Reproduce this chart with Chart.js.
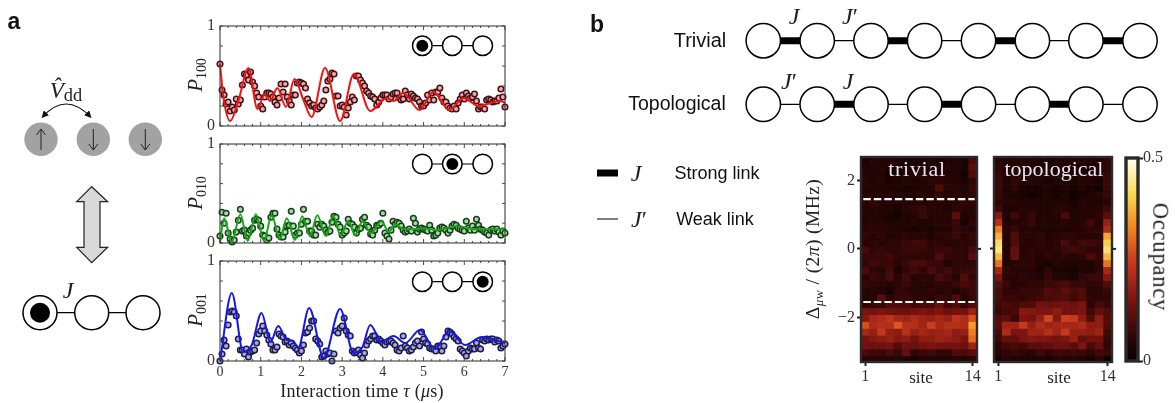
<!DOCTYPE html>
<html><head><meta charset="utf-8">
<style>
html,body{margin:0;padding:0;background:#fff;width:1175px;height:403px;overflow:hidden}
#root{position:relative;width:1175px;height:403px;filter:blur(.35px)}
canvas{position:absolute}
svg{position:absolute;left:0;top:0}
.t{position:absolute;white-space:nowrap;transform:translate(-50%,-50%);line-height:1;color:#222}
.s{font-family:"Liberation Serif",serif}
.a{font-family:"Liberation Sans",Arial,sans-serif;color:#111}
i{font-style:italic}
sub{font-size:.66em;line-height:0;vertical-align:-.3em}
</style>
<script src="https://cdn.jsdelivr.net/npm/chart.js@4"></script>
</head><body><div id="root"><svg id="dg" width="1175" height="403"></svg></div>
<script>
// ---------- data ----------
const timeUs=[
0,.05,.1,.15,.2,.25,.3,.35,.4,.45,.5,.55,.6,.65,.7,.75,.8,.85,.9,.95,
1,1.05,1.1,1.15,1.2,1.25,1.3,1.35,1.4,1.45,1.5,1.55,1.6,1.65,1.7,1.75,1.8,1.85,1.9,1.95,
2,2.05,2.1,2.15,2.2,2.25,2.3,2.35,2.4,2.45,2.5,2.55,2.6,2.65,2.7,2.75,2.8,2.85,2.9,2.95,
3,3.05,3.1,3.15,3.2,3.25,3.3,3.35,3.4,3.45,3.5,3.55,3.6,3.65,3.7,3.75,3.8,3.85,3.9,3.95,
4,4.05,4.1,4.15,4.2,4.25,4.3,4.35,4.4,4.45,4.5,4.55,4.6,4.65,4.7,4.75,4.8,4.85,4.9,4.95,
5,5.05,5.1,5.15,5.2,5.25,5.3,5.35,5.4,5.45,5.5,5.55,5.6,5.65,5.7,5.75,5.8,5.85,5.9,5.95,
6,6.05,6.1,6.15,6.2,6.25,6.3,6.35,6.4,6.45,6.5,6.55,6.6,6.65,6.7,6.75,6.8,6.85,6.9,6.95,
7];
const p100=[
.62,.36,.31,.22,.24,.15,.19,.16,.27,.22,.26,.41,.52,.51,.46,.54,.44,.40,.33,.29,
.20,.17,.29,.33,.33,.32,.29,.24,.21,.28,.42,.34,.42,.29,.25,.21,.31,.31,.43,.44,
.43,.42,.38,.27,.23,.20,.21,.18,.17,.19,.21,.25,.36,.45,.47,.53,.52,.30,.30,.20,
.21,.19,.11,.18,.24,.29,.26,.50,.50,.46,.43,.40,.35,.33,.30,.29,.27,.21,.24,.28,
.31,.31,.31,.27,.29,.32,.33,.33,.28,.26,.27,.35,.31,.27,.32,.30,.28,.27,.24,.20,
.20,.23,.31,.26,.33,.26,.34,.34,.38,.28,.24,.24,.20,.18,.17,.20,.17,.23,.27,.31,
.27,.33,.30,.28,.29,.32,.25,.17,.19,.19,.17,.26,.27,.26,.24,.25,.25,.28,.37,.29,
.19];
const p010=[
.07,.31,.20,.30,.10,.04,.01,.03,.11,.23,.34,.12,.13,.07,.10,.13,.15,.23,.24,.23,
.17,.08,.07,.03,.05,.26,.30,.30,.14,.08,.06,.06,.11,.17,.18,.32,.17,.08,.10,.10,
.19,.34,.22,.22,.12,.12,.08,.08,.19,.16,.19,.17,.13,.11,.12,.21,.27,.26,.19,.16,
.08,.10,.12,.24,.20,.19,.16,.10,.14,.15,.24,.26,.18,.16,.09,.08,.13,.18,.18,.20,
.30,.10,.07,.04,.13,.22,.19,.21,.20,.17,.13,.11,.12,.14,.12,.25,.20,.11,.14,.15,
.14,.13,.12,.18,.13,.07,.08,.10,.15,.16,.15,.13,.10,.13,.17,.19,.18,.15,.14,.13,
.12,.22,.15,.13,.17,.13,.24,.18,.14,.13,.11,.10,.08,.13,.14,.12,.14,.11,.08,.12,
.10];
const p001=[
.00,.07,.21,.15,.36,.49,.50,.49,.45,.22,.11,.11,.07,.12,.04,.09,.10,.11,.18,.27,
.30,.35,.30,.26,.21,.17,.11,.11,.14,.27,.25,.24,.19,.20,.16,.18,.15,.13,.11,.08,
.10,.16,.28,.29,.33,.40,.40,.22,.20,.17,.04,.05,.10,.07,.08,.00,.07,.30,.28,.33,
.35,.43,.30,.26,.25,.10,.08,.09,.11,.06,.03,.08,.16,.20,.22,.25,.25,.21,.22,.20,
.18,.16,.19,.20,.20,.18,.16,.11,.10,.13,.25,.15,.13,.10,.11,.14,.18,.20,.15,.29,
.22,.18,.17,.13,.12,.12,.10,.15,.15,.10,.15,.24,.30,.29,.27,.24,.22,.20,.12,.10,
.08,.05,.10,.13,.12,.12,.18,.13,.12,.21,.20,.22,.21,.22,.22,.19,.21,.20,.13,.15,
.17];
const fitTime100=[0,.08,.25,.45,.7,.92,1.1,1.23,1.41,1.62,1.83,2.05,2.25,2.58,2.95,3.29,3.69,4.1,4.26,4.5,4.9,5.24,5.63,5.98,6.35,6.88,7];
const fit100=[.62,.3,.05,.25,.58,.17,.32,.25,.38,.19,.47,.26,.09,.58,.05,.52,.15,.28,.25,.33,.16,.34,.16,.28,.2,.25,.23];
const fitTime010=[0,.1,.29,.5,.68,.88,1.08,1.27,1.47,1.64,1.84,2.02,2.21,2.39,2.6,2.78,2.96,3.15,3.32,3.5,3.7,3.97,4.14,4.3,4.46,4.67,5,5.32,5.81,6.3,7];
const fit010=[.0,.25,.01,.29,.02,.29,.02,.28,.04,.25,.03,.27,.07,.28,.07,.27,.08,.22,.08,.22,.1,.22,.11,.19,.15,.14,.15,.13,.17,.14,.14];
const fitTime001=[0,.29,.57,.78,1.02,1.24,1.43,1.64,1.8,1.92,2.19,2.55,2.95,3.28,3.5,3.69,3.97,4.26,4.55,4.91,5.28,5.63,6.02,6.43,7];
const fit001=[0,.68,.09,.16,.48,.19,.35,.21,.2,.13,.53,.03,.52,.08,.14,.36,.19,.25,.18,.31,.12,.3,.16,.24,.18];
const timeTicks=[0,.2,.4,.6,.8,1,1.2,1.4,1.6,1.8,2,2.2,2.4,2.6,2.8,3,3.2,3.4,3.6,3.8,4,4.2,4.4,4.6,4.8,5,5.2,5.4,5.6,5.8,6,6.2,6.4,6.6,6.8,7];
const probTicks=[0,.2,.4,.6,.8,1];
const siteLabels=['1','2','3','4','5','6','7','8','9','10','11','12','13','14'];
const detuningRows=[2.58,2.38,2.18,1.98,1.78,1.58,1.38,1.18,.98,.78,.58,.38,.18,-.02,-.22,-.42,-.62,-.82,-1.02,-1.22,-1.42,-1.62,-1.82,-2.02,-2.22,-2.42,-2.62,-2.82,-3.02,-3.22];
const detuningTicks=[-2,0,2];
const bandEdges=[1.45,-1.55];
const occupancyTicks=[0,.5];
// occupancy in percent, rows top to bottom, sites 1..14
const trivialOcc=[
[3,5,4,4,4,3,3,4,4,3,4,4,3,9],[4,4,5,4,3,4,4,4,4,5,5,4,3,11],[5,4,4,2,3,4,5,5,4,5,4,4,2,10],
[5,4,5,3,4,5,4,4,6,5,5,4,3,6],[4,5,4,4,4,3,4,5,4,10,5,5,4,7],[5,5,5,5,5,4,4,6,5,6,5,5,5,6],
[5,6,5,5,5,5,5,5,5,5,5,5,6,6],[5,5,4,4,3,5,6,7,5,5,4,6,5,5],[4,5,4,3,2,4,5,7,5,5,5,11,4,5],
[4,5,5,4,4,4,5,4,4,5,5,7,3,6],[5,6,5,5,4,4,3,4,3,4,4,7,6,5],[6,5,6,4,5,6,5,5,4,5,6,7,5,7],
[5,6,5,6,6,7,8,8,6,6,5,5,6,6],[9,6,7,6,6,7,7,7,6,7,7,6,6,9],[7,7,7,8,6,6,6,6,6,10,6,6,6,11],
[6,8,7,7,5,7,9,9,7,7,4,6,6,6],[9,6,5,8,3,6,8,6,9,7,8,6,7,7],[5,7,6,9,5,8,5,6,5,9,7,5,10,6],
[7,6,6,5,6,7,6,5,5,6,6,7,9,8],[5,5,4,3,6,6,5,5,6,5,6,4,6,7],[4,5,11,6,7,7,6,6,5,7,6,10,5,7],
[6,7,7,10,10,10,8,9,9,13,8,10,7,10],[15,14,15,14,13,13,14,15,14,15,13,14,14,19],
[16,20,21,23,20,19,21,19,18,20,18,23,21,27],[27,21,22,22,28,22,22,19,25,20,22,22,21,35],
[20,18,24,18,17,22,18,20,18,19,20,17,18,32],[14,16,17,18,16,17,14,17,17,19,18,17,15,30],
[14,13,13,14,10,13,13,14,15,14,14,14,13,19],[9,8,7,9,7,12,6,7,8,6,6,10,9,11],[5,5,5,4,5,4,3,5,4,4,4,5,4,6]];
const topologicalOcc=[
[5,4,4,5,4,4,3,4,4,4,5,4,4,6],[6,4,5,5,3,3,4,4,4,4,3,3,4,6],[7,4,5,4,4,4,4,5,4,3,4,4,4,7],
[7,4,6,4,5,4,3,4,4,3,5,4,3,7],[7,4,6,3,3,3,4,3,4,3,4,3,2,7],[7,4,4,3,2,3,4,3,4,2,3,4,5,7],
[6,5,5,4,4,4,4,4,4,3,5,4,4,5],[8,4,4,5,5,5,4,5,5,4,5,5,5,8],[16,4,8,5,7,4,4,5,9,4,4,5,6,11],
[22,4,5,5,7,4,5,4,5,4,5,8,4,18],[32,5,7,5,5,4,4,4,4,4,5,6,6,21],[37,5,10,5,5,6,4,5,6,6,5,5,5,36],
[42,5,10,5,5,6,5,6,9,6,8,8,7,40],[44,5,12,5,6,5,5,6,7,8,7,6,6,43],[38,5,12,5,6,4,6,5,6,5,6,9,7,38],
[31,4,5,6,6,4,3,5,4,4,5,4,6,31],[20,6,5,5,5,3,6,3,3,3,4,4,6,20],[15,5,5,6,5,4,7,5,4,3,6,7,7,16],
[11,7,5,5,6,6,7,8,9,7,7,6,6,10],[9,6,6,7,7,7,10,9,11,9,10,5,6,7],[9,7,7,6,7,8,9,10,10,8,10,6,6,6],
[8,9,8,10,10,14,13,13,14,13,15,6,9,7],[7,8,9,16,16,15,15,17,14,14,15,8,12,10],
[10,11,7,15,14,18,26,16,25,24,17,10,17,10],[11,19,19,24,18,21,19,20,20,20,21,17,17,10],
[9,21,15,15,19,19,22,19,24,18,18,17,19,8],[8,12,12,15,16,15,15,14,15,18,12,14,14,7],
[6,8,9,8,11,11,12,13,13,11,15,9,12,6],[5,6,7,6,5,8,6,8,7,8,7,6,8,7],[3,5,4,4,4,4,3,5,5,5,4,3,6,1]];
const cmapStops=[[0,[6,0,0]],[.12,[46,6,6]],[.3,[125,20,16]],[.5,[205,60,28]],[.66,[240,135,35]],[.82,[250,215,80]],[1,[255,255,245]]];

// ---------- helpers ----------
const root=document.getElementById('root');
const SERIF='"Liberation Serif",serif';
Chart.defaults.animation=false;
Chart.defaults.devicePixelRatio=1;
Chart.defaults.events=[];
function zip(xs,ys){return xs.map((x,i)=>({x,y:ys[i]}));}
function noPad(s){s.paddingTop=s.paddingBottom=s.paddingLeft=s.paddingRight=0;}
function makeCanvas(L,T,R,B,padL,padR,padT,padB){
  const c=document.createElement('canvas');
  c.width=R-L+padL+padR;c.height=B-T+padT+padB;
  c.style.left=(L-padL)+'px';c.style.top=(T-padT)+'px';
  c.style.width=c.width+'px';c.style.height=c.height+'px';
  root.appendChild(c);return c;
}
function lab(html,x,y,style,rot,cls){
  const d=document.createElement('div');d.className='t '+(cls||'s');d.innerHTML=html;
  d.style.left=x+'px';d.style.top=y+'px';d.style.cssText+=';'+style;
  if(rot)d.style.transform='translate(-50%,-50%) rotate('+rot+'deg)';
  root.appendChild(d);
}
function cmap(f){
  f=Math.max(0,Math.min(1,f));
  for(let i=1;i<cmapStops.length;i++){
    if(f<=cmapStops[i][0]){
      const [a,ca]=cmapStops[i-1],[b,cb]=cmapStops[i],k=(f-a)/(b-a);
      return 'rgb('+ca.map((v,j)=>Math.round(v+(cb[j]-v)*k)).join(',')+')';
    }
  }
  return 'rgb(255,255,245)';
}
const frameTicks={id:'frameTicks',afterDraw(ch){
  const {ctx,chartArea:a,scales:s}=ch;ctx.save();
  ctx.strokeStyle='#4a4a4a';ctx.lineWidth=1;
  s.x.ticks.forEach(t=>{const p=s.x.getPixelForValue(t.value),l=Number.isInteger(t.value)?4:2;
    ctx.beginPath();ctx.moveTo(p,a.top);ctx.lineTo(p,a.top+l);ctx.moveTo(p,a.bottom);ctx.lineTo(p,a.bottom-l);ctx.stroke();});
  s.y.ticks.forEach(t=>{const p=s.y.getPixelForValue(t.value);
    ctx.beginPath();ctx.moveTo(a.left,p);ctx.lineTo(a.left+3,p);ctx.moveTo(a.right,p);ctx.lineTo(a.right-3,p);ctx.stroke();});
  ctx.strokeStyle='#3c3c3c';ctx.lineWidth=1.1;ctx.strokeRect(a.left,a.top,a.right-a.left,a.bottom-a.top);
  ctx.restore();
}};
function panel(T,B,values,fitT,fitV,lineCol,fill,edge,showX){
  const padL=28,padB=showX?22:4;
  const c=makeCanvas(220,T,505,B,padL,10,8,padB);
  new Chart(c,{type:'scatter',plugins:[frameTicks],data:{datasets:[
    {data:zip(fitT,fitV),showLine:true,pointRadius:0,borderColor:lineCol,borderWidth:2,cubicInterpolationMode:'monotone',order:0,clip:false},
    {data:zip(timeUs,values),showLine:false,pointRadius:2.8,backgroundColor:fill,borderColor:edge,borderWidth:1.5,order:1,clip:false}
  ]},options:{responsive:false,maintainAspectRatio:false,
    layout:{autoPadding:false,padding:{top:8,right:10,left:0,bottom:0}},
    plugins:{legend:{display:false},tooltip:{enabled:false}},
    scales:{
      x:{type:'linear',min:0,max:7,afterFit:s=>{s.height=padB;noPad(s);},afterBuildTicks:s=>{s.ticks=timeTicks.map(v=>({value:v}));},
        grid:{display:false,drawTicks:false},border:{display:false},
        ticks:{display:showX,autoSkip:false,maxRotation:0,padding:3,color:'#333',font:{family:SERIF,size:14},
          callback:v=>Number.isInteger(v)?String(v):''}},
      y:{type:'linear',min:0,max:1,afterFit:s=>{s.width=padL;noPad(s);},afterBuildTicks:s=>{s.ticks=probTicks.map(v=>({value:v}));},
        grid:{display:false,drawTicks:false},border:{display:false},
        ticks:{autoSkip:false,padding:5,color:'#333',font:{family:SERIF,size:16},
          callback:v=>(v===0||v===1)?String(v):''}}
    }}});
}
const cellFrame={id:'cellFrame',afterDraw(ch,args,o){
  const {ctx,chartArea:a,scales:s}=ch;ctx.save();
  ctx.strokeStyle='#2a2a2a';ctx.lineWidth=o.w||2.4;
  ctx.strokeRect(a.left,a.top,a.right-a.left,a.bottom-a.top);
  if(o.zeroR){const p=s.y.getPixelForValue(0);ctx.lineWidth=2;ctx.strokeStyle='#222';
    ctx.beginPath();ctx.moveTo(a.right,p);ctx.lineTo(a.right+4,p);ctx.stroke();}
  ctx.restore();
}};
function heat(L,R,occ,yTicks,yLabels,dashed){
  const T=157,B=362,padL=yLabels?32:8,padR=8,padB=26;
  const c=makeCanvas(L,T,R,B,padL,padR,4,padB);
  const datasets=detuningRows.map((d,r)=>({
    data:occ[r].map(()=>[d-.1,d+.1]),
    backgroundColor:occ[r].map(v=>cmap(v/50)),
    borderWidth:0,grouped:false,barPercentage:1,categoryPercentage:1,order:2
  }));
  (dashed||[]).forEach(y=>datasets.push({type:'scatter',xAxisID:'xLine',
    data:[{x:.02,y},{x:.98,y}],showLine:true,pointRadius:0,borderColor:'#fff',borderWidth:2.2,borderDash:[7.5,3],order:0}));
  new Chart(c,{type:'bar',plugins:[cellFrame],data:{labels:siteLabels,datasets},options:{
    responsive:false,maintainAspectRatio:false,
    layout:{autoPadding:false,padding:{top:4,right:padR,left:0,bottom:0}},
    plugins:{legend:{display:false},tooltip:{enabled:false},cellFrame:{zeroR:true}},
    scales:{
      x:{type:'category',offset:true,afterFit:s=>{s.height=padB;noPad(s);},
        afterBuildTicks:s=>{s.ticks=s.ticks.filter(t=>t.value===0||t.value===13);},
        grid:{offset:false,drawOnChartArea:false,drawTicks:true,tickLength:4,tickWidth:2,tickColor:'#222'},border:{display:false},
        ticks:{autoSkip:false,maxRotation:0,padding:1,color:'#333',font:{family:SERIF,size:16},callback:v=>siteLabels[v]}},
      xLine:{type:'linear',min:0,max:1,display:false,offset:false},
      y:{type:'linear',min:-3.3,max:2.68,afterFit:s=>{s.width=padL;noPad(s);},afterBuildTicks:s=>{s.ticks=yTicks.map(v=>({value:v}));},
        grid:{drawOnChartArea:false,drawTicks:true,tickLength:4,tickWidth:2,tickColor:'#222'},border:{display:false},
        ticks:{autoSkip:false,padding:2,color:'#333',font:{family:SERIF,size:16},
          callback:v=>yLabels?(v<0?'\u2212'+(-v):String(v)):''}}
    }}});
}
// ---------- panels ----------
panel(26,126,p100,fitTime100,fit100,'#f01414','#edaaaa','#451015',false);
panel(144,243,p010,fitTime010,fit010,'#14a814','#a8d8a8','#173f19',false);
panel(261,361,p001,fitTime001,fit001,'#1818e6','#abaae0','#1c1c50',true);
heat(861,977,trivialOcc,detuningTicks,true,bandEdges);
heat(994,1112,topologicalOcc,[0],false,null);
// colour bar
(function(){
  const c=makeCanvas(1126,158,1138,361,3,34,10,10);
  new Chart(c,{type:'bar',plugins:[cellFrame],data:{labels:['Occupancy'],datasets:[{data:[[0,.5]],borderWidth:0,barPercentage:1,categoryPercentage:1,
    backgroundColor:ctx=>{const a=ctx.chart.chartArea;if(!a)return '#000';
      const g=ctx.chart.ctx.createLinearGradient(0,a.bottom,0,a.top);
      cmapStops.forEach(s=>g.addColorStop(s[0],'rgb('+s[1].join(',')+')'));return g;}}]},
    options:{responsive:false,maintainAspectRatio:false,
      layout:{autoPadding:false,padding:{left:3,top:10,right:0,bottom:10}},
      plugins:{legend:{display:false},tooltip:{enabled:false},cellFrame:{w:3.4}},
      scales:{x:{display:false},
        y:{position:'right',min:0,max:.5,afterFit:s=>{s.width=34;noPad(s);},afterBuildTicks:s=>{s.ticks=occupancyTicks.map(v=>({value:v}));},
          grid:{drawOnChartArea:false,drawTicks:true,tickLength:5,tickWidth:2,tickColor:'#222'},border:{display:false},
          ticks:{autoSkip:false,padding:0,color:'#333',font:{family:SERIF,size:16},callback:v=>String(v)}}}}});
})();
// ---------- labels ----------
lab('<i>P</i><sub>100</sub>',195,75,'font-size:21px',-90);
lab('<i>P</i><sub>010</sub>',195,193,'font-size:21px',-90);
lab('<i>P</i><sub>001</sub>',195,310,'font-size:21px',-90);
lab('Interaction time <i>τ</i> (<i>μ</i>s)',362,391,'font-size:18px;letter-spacing:.25px');
lab('Δ<sub><i>μ</i>w</sub> / (2<i>π</i>) (MHz)',813,249,'font-size:19.5px;letter-spacing:.4px',-90);
lab('trivial',917,169,'font-size:22px;color:#e9e6f2;letter-spacing:.7px');
lab('topological',1054,169,'font-size:22px;color:#e9e6f2');
lab('site',921,377,'font-size:17px');
lab('site',1059,377,'font-size:17px');
lab('Occupancy',1160,257,'font-size:22.5px;letter-spacing:.8px',90);
lab('a',14,21,'font-size:23px;font-weight:bold',0,'a');
lab('b',597,24,'font-size:23px;font-weight:bold',0,'a');
lab('Trivial',700,40,'font-size:20px',0,'a');
lab('Topological',677,103.5,'font-size:19.5px',0,'a');
lab('Strong link',717,173,'font-size:18px',0,'a');
lab('Weak link',715,219,'font-size:18px',0,'a');
[['<i>J</i>',794,16],['<i>J</i>′',850,16],['<i>J</i>′',789,81],['<i>J</i>',848,81],['<i>J</i>',636,173],['<i>J</i>′',639,219],['<i>J</i>',68,290]]
  .forEach(a=>lab(a[0],a[1],a[2],'font-size:24px'));
lab('<i>V̂</i><sub style="font-size:.8em;vertical-align:-.2em">dd</sub>',66,90,'font-size:23px');

// ---------- schematic ----------
let svg='<defs><marker id="ah" viewBox="0 0 10 10" refX="8" refY="5" markerWidth="6" markerHeight="6" orient="auto-start-reverse"><path d="M0 0L10 5L0 10z" fill="#111"/></marker></defs>';
const circ=(x,y,r)=>`<circle cx="${x}" cy="${y}" r="${r}" fill="#fff" stroke="#000" stroke-width="1.5"/>`;
const line=(a,y,b,w)=>`<line x1="${a}" y1="${y}" x2="${b}" y2="${y}" stroke="#000" stroke-width="${w}"/>`;
function chain3(y,sel,xs,r,rDot){
  svg+=line(xs[0],y,xs[2],1.2);
  xs.forEach((x,i)=>{svg+=circ(x,y,r);
    if(i===sel){svg+=`<circle cx="${x}" cy="${y}" r="${rDot}" fill="#000"/>`;}});
}
const mini=[422.3,452.3,482.7];
chain3(45.7,0,mini,9.8,6);
chain3(164,1,mini,9.8,6);
chain3(281.7,2,mini,9.8,6);
chain3(312.7,0,[40,91.7,143],17,10);
// spins
[41,93.3,145.3].forEach((x,i)=>{svg+=`<circle cx="${x}" cy="139.3" r="16.7" fill="#a2a2a2"/>`;
  const up=i===0,a=up?150:129,b=up?129:150,h=up?1:-1;
  svg+=`<path d="M${x} ${a}L${x} ${b}M${x-4.5} ${b+6*h}L${x} ${b}L${x+4.5} ${b+6*h}" fill="none" stroke="#222" stroke-width="1"/>`;});
svg+='<path d="M42.5 117Q66 91 90.5 117" fill="none" stroke="#111" stroke-width="1.2" marker-start="url(#ah)" marker-end="url(#ah)"/>';
svg+='<path d="M91.7 186.7L107.7 201.7L100 201.7L100 247.3L107.7 247.3L91.7 262.7L76.7 247.3L84 247.3L84 201.7L76.7 201.7Z" fill="#d9d9d9" stroke="#222" stroke-width="1.2"/>';
// SSH chains
const sites=[763.3,817.2,871,924.6,978.5,1032.4,1085.9,1140];
function ssh(y,first){
  for(let i=0;i<7;i++){const strong=(i%2===0)===first;svg+=line(sites[i],y,sites[i+1],strong?7:1.2);}
  sites.forEach(x=>{svg+=circ(x,y,17.2);});
}
ssh(40.7,true);ssh(104.3,false);
svg+=line(597,173,618,7)+line(597,219,618,1);
document.getElementById('dg').innerHTML=svg;
</script></body></html>
